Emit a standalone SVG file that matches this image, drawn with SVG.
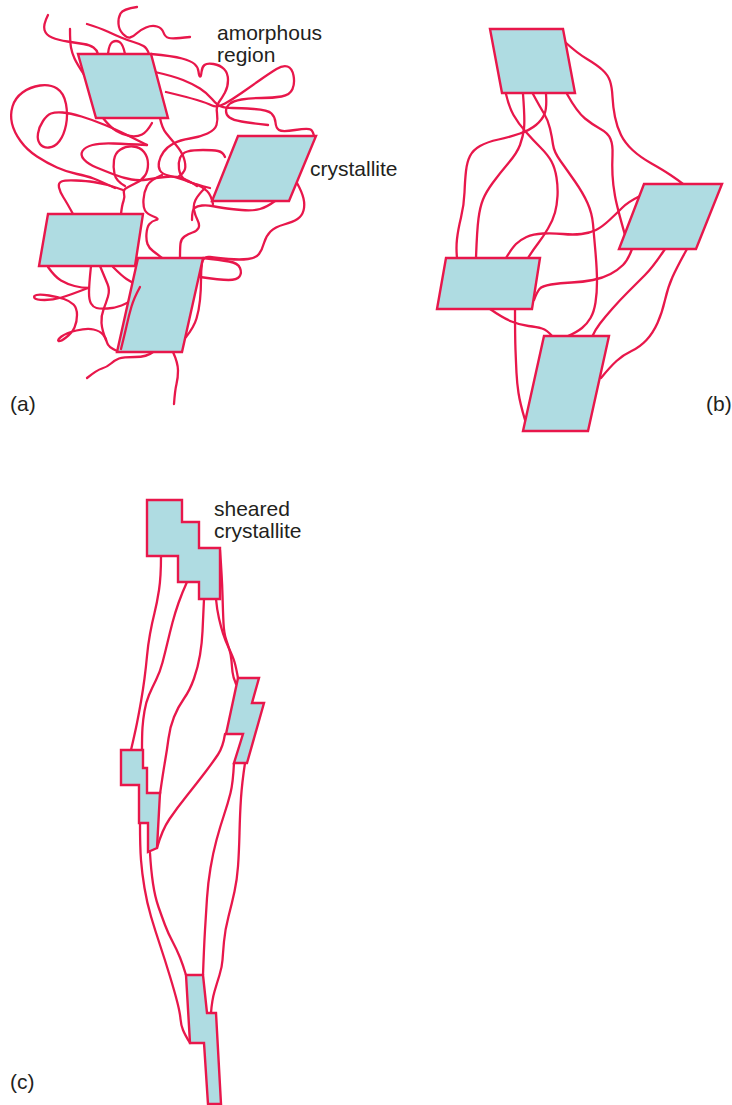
<svg xmlns="http://www.w3.org/2000/svg" width="732" height="1105" viewBox="0 0 732 1105">
  <style>
    .chain { fill: none; stroke: #e8174b; stroke-width: 2.3; stroke-linecap: round; stroke-linejoin: round; }
    .xtal { fill: #afdce2; stroke: #e8174b; stroke-width: 2.4; stroke-linejoin: miter; }
    .label { font-family: "Liberation Sans", Arial, sans-serif; font-size: 21px; fill: #231f20; }
  </style>
  <rect width="732" height="1105" fill="#ffffff"/>

  <!-- (a) amorphous tangle: chain segments -->
  <g id="chains-a" class="chain">
    <path d="M48 15 Q43 25 44.5 30 Q46 35 52 37.5 Q58 40 67.5 41.5 Q77 43 83.5 44 Q90 45 93.5 47.5 Q97 50 98 54"/>
    <path d="M70 29 Q70 42 71 47.5 Q72 53 74.5 58.5 Q77 64 85 76"/>
    <path d="M87 24 Q100 28 107.5 31.5 Q115 35 121 37.5 Q127 40 133.5 42 Q140 44 143.5 46 Q147 48 149 54"/>
    <path d="M108 54 Q109 44 112.5 42 Q116 40 119.5 42 Q123 44 125 54"/>
    <path d="M137 7 Q123 9 120.5 13.5 Q118 18 118.5 24 Q119 30 123 34 Q127 38 130 37.5 Q133 37 136.5 33.5 Q140 30 146 27.5 Q152 25 157 26.5 Q162 28 163.5 32.5 Q165 37 169 38 Q173 39 190 37"/>
    <path d="M151 54 Q173 56 182 58.5 Q191 61 194.5 64 Q198 67 198.5 71.5 Q199 76 200 76.5 Q201 77 201.5 72 Q202 67 204.5 65 Q207 63 213.5 64 Q220 65 224 69 Q228 73 228 80 Q228 87 225 92.5 Q222 98 219 102 Q216 106 217 113 Q218 120 216.5 125 Q215 130 207.5 133.5 Q200 137 190 138.5 Q180 140 173.5 143.5 Q167 147 163.5 152 Q160 157 159 162 Q158 167 160 170.5 Q162 174 168.5 175.5 Q175 177 182.5 179.5 Q190 182 196.5 184.5 Q203 187 207 191 Q211 195 213 204"/>
    <path d="M155 72 Q173 76 183 80 Q193 84 200 88.5 Q207 93 212 99 Q217 105 221 106.5 Q225 108 232.5 108 Q240 108 254 109 Q268 110 271.5 113.5 Q275 117 275.5 122.5 Q276 128 279 130 Q282 132 295 130 Q308 128 310.5 129.5 Q313 131 314 136"/>
    <path d="M166 92 Q187 97 197 100 Q207 103 212 105.5 Q217 108 225 103.5 Q233 99 241.5 93 Q250 87 260 80 Q270 73 276.5 69 Q283 65 287.5 66.5 Q292 68 293.5 75.5 Q295 83 292.5 89 Q290 95 281.5 96.5 Q273 98 261.5 98 Q250 98 241.5 99.5 Q233 101 229.5 104 Q226 107 226 111 Q226 115 229.5 117.5 Q233 120 241.5 121.5 Q250 123 268 125"/>
    <path d="M147 145 Q133 138 125 134 Q117 130 105 125 Q93 120 81.5 116.5 Q70 113 62.5 112.5 Q55 112 51 113.5 Q47 115 43 121 Q39 127 38 133.5 Q37 140 40 144 Q43 148 49 147.5 Q55 147 59.5 141 Q64 135 66 125 Q68 115 66 104 Q64 93 57 88.5 Q50 84 40 85.5 Q30 87 22.5 92.5 Q15 98 12.5 106.5 Q10 115 12 123.5 Q14 132 20.5 141 Q27 150 37 156.5 Q47 163 57 167.5 Q67 172 77 174 Q87 176 93.5 178.5 Q100 181 115 188"/>
    <path d="M147 145 Q127 144 113.5 143.5 Q100 143 92.5 145 Q85 147 82.5 151 Q80 155 84 159.5 Q88 164 96.5 167.5 Q105 171 114 174.5 Q123 178 131.5 179.5 Q140 181 147.5 179.5 Q155 178 165 177 Q175 176 181.5 178 Q188 180 197 186"/>
    <path d="M125 186 Q116 181 114.5 174 Q113 167 114 160 Q115 153 120.5 149.5 Q126 146 133 146.5 Q140 147 144 152 Q148 157 148 164 Q148 171 145 175.5 Q142 180 136 183 Q130 186 126.5 188 Q123 190 124 193.5 Q125 197 123.5 201 Q122 205 121 214"/>
    <path d="M73 214 Q67 203 63.5 197.5 Q60 192 59 187.5 Q58 183 61.5 181.5 Q65 180 76 180.5 Q87 181 93.5 182 Q100 183 107.5 185 Q115 187 123 190"/>
    <path d="M160 118 Q162 128 166 133 Q170 138 176 145 Q182 152 184 158.5 Q186 165 185 169 Q184 173 178 177"/>
    <path d="M225 157 Q223 152 218 151 Q213 150 203 150 Q193 150 187.5 151.5 Q182 153 180 158 Q178 163 179 169 Q180 175 183 178 Q186 181 190.5 182.5 Q195 184 210 188"/>
    <path d="M103 118 Q110 127 116.5 131 Q123 135 130 136 Q137 137 142 134.5 Q147 132 152 123"/>
    <path d="M192 220 Q192 210 194.5 208 Q197 206 202 205.5 Q207 205 212 206 Q217 207 223.5 208 Q230 209 241.5 210 Q253 211 260 209 Q267 207 275 201"/>
    <path d="M205 188 Q198 195 195.5 200 Q193 205 194 210 Q195 215 197.5 220 Q200 225 198.5 228 Q197 231 192.5 232.5 Q188 234 184.5 236.5 Q181 239 180.5 243.5 Q180 248 180 258"/>
    <path d="M297 183 Q302 192 303.5 198.5 Q305 205 303.5 210.5 Q302 216 297.5 219 Q293 222 284 224.5 Q275 227 270.5 231.5 Q266 236 264 243 Q262 250 259 254 Q256 258 248 259 Q240 260 228.5 259 Q217 258 210 257 Q203 256 202 263 Q201 270 201 280 Q201 290 200 300 Q199 310 196.5 318.5 Q194 327 186 337"/>
    <path d="M203 258 Q220 260 229 261.5 Q238 263 240 268 Q242 273 239.5 276.5 Q237 280 228.5 280 Q220 280 200 277"/>
    <path d="M162 175 Q150 180 147 186 Q144 192 143.5 199.5 Q143 207 145 210.5 Q147 214 153.5 216.5 Q160 219 156 220 Q152 221 149.5 224 Q147 227 146.5 233.5 Q146 240 147.5 244 Q149 248 153 251 Q157 254 162 258"/>
    <path d="M48 267 Q55 277 61 280.5 Q67 284 74.5 286 Q82 288 89 288"/>
    <path d="M91 266 Q89 285 89 292.5 Q89 300 91 303.5 Q93 307 96.5 308 Q100 309 107.5 308.5 Q115 308 121.5 305.5 Q128 303 132 299 Q136 295 140 287"/>
    <path d="M88 288 Q70 295 61.5 297.5 Q53 300 44.5 300 Q36 300 34.5 298 Q33 296 36.5 295 Q40 294 49 295.5 Q58 297 64 299 Q70 301 73.5 304.5 Q77 308 77 315 Q77 322 74.5 327.5 Q72 333 66 337.5 Q60 342 58.5 341 Q57 340 61.5 336.5 Q66 333 76.5 330.5 Q87 328 93.5 329.5 Q100 331 103 334.5 Q106 338 107 342.5 Q108 347 117 351"/>
    <path d="M100 266 Q105 278 107.5 284 Q110 290 108 296.5 Q106 303 103.5 309.5 Q101 316 101.5 323 Q102 330 106 340"/>
    <path d="M113 267 Q122 276 126.5 279 Q131 282 139 286"/>
    <path d="M153 352 Q147 357 135 357 Q123 357 119 358.5 Q115 360 111 363.5 Q107 367 102 368.5 Q97 370 87 378"/>
    <path d="M173 352 Q178 363 178 370.5 Q178 378 176.5 384 Q175 390 174 404"/>
  </g>

  <!-- (a) crystallites -->
  <g id="xtal-a1"><polygon class="xtal" points="78,54 151,54 168,118 96,118"/></g>
  <g id="xtal-a2"><polygon class="xtal" points="238,136 316,136 289,201 212,201"/></g>
  <g id="xtal-a3"><polygon class="xtal" points="48,214 143,214 135,266 39,266"/></g>
  <g id="xtal-a4"><polygon class="xtal" points="138,258 203,258 182,352 117,352"/></g>

  <!-- (a) chain passing over the lower crystallite -->
  <g id="chains-a-over" class="chain">
    <path d="M140 287 Q134 298 131.5 306.5 Q129 315 127 324 Q125 333 121 349"/>
  </g>

  <!-- (b) tie molecules between crystallites -->
  <g id="chains-b" class="chain">
    <path d="M565 42 Q577 53 587 59 Q597 65 602.5 70 Q608 75 610 81 Q612 87 612.5 97 Q613 107 615 117 Q617 127 621 135 Q625 143 632.5 150 Q640 157 651.5 163.5 Q663 170 670.5 175 Q678 180 683 184"/>
    <path d="M567 94 Q577 112 585 118.5 Q593 125 600.5 129 Q608 133 610.5 139 Q613 145 612.5 155 Q612 165 612.5 175 Q613 185 615 196 Q617 207 625 235"/>
    <path d="M546 94 Q547 108 544.5 114 Q542 120 536 125 Q530 130 520 133.5 Q510 137 498.5 139.5 Q487 142 480 146 Q473 150 470 156 Q467 162 466 171 Q465 180 464.5 192.5 Q464 205 461 217.5 Q458 230 457 239 Q456 248 457 258"/>
    <path d="M523 94 Q525 120 524 128.5 Q523 137 520 145 Q517 153 508.5 163 Q500 173 493 182.5 Q486 192 483 199.5 Q480 207 478.5 218.5 Q477 230 476 258"/>
    <path d="M506 94 Q509 107 513.5 115 Q518 123 525.5 131.5 Q533 140 540.5 147.5 Q548 155 551.5 161.5 Q555 168 556.5 177.5 Q558 187 557.5 196 Q557 205 555 212.5 Q553 220 548 228.5 Q543 237 538 243.5 Q533 250 528 258"/>
    <path d="M533 94 Q540 107 544 113.5 Q548 120 550 128.5 Q552 137 553 144.5 Q554 152 560.5 161 Q567 170 575 181.5 Q583 193 587.5 203 Q592 213 593 224 Q594 235 595.5 252.5 Q597 270 597 281.5 Q597 293 595.5 302.5 Q594 312 590.5 318 Q587 324 582 328 Q577 332 568 336"/>
    <path d="M506 258 Q512 248 516 244 Q520 240 526.5 237 Q533 234 543 233.5 Q553 233 563 234 Q573 235 581.5 234 Q590 233 596 230 Q602 227 609.5 220 Q617 213 622.5 207.5 Q628 202 640 196"/>
    <path d="M534 300 Q537 292 539.5 289 Q542 286 551 284.5 Q560 283 571.5 282.5 Q583 282 593 280 Q603 278 610.5 274 Q618 270 623 265 Q628 260 632 249"/>
    <path d="M665 249 Q653 267 645 275 Q637 283 628.5 291.5 Q620 300 612.5 308.5 Q605 317 600 323.5 Q595 330 592 337"/>
    <path d="M687 249 Q677 267 672.5 277 Q668 287 665 300 Q662 313 657.5 323 Q653 333 646.5 340 Q640 347 631.5 351 Q623 355 616.5 361 Q610 367 601 378"/>
    <path d="M490 309 Q503 318 511.5 321.5 Q520 325 528.5 326 Q537 327 542 328.5 Q547 330 552 336"/>
    <path d="M515 309 Q515 337 515.5 350 Q516 363 516.5 373 Q517 383 518.5 393 Q520 403 525 420"/>
  </g>

  <!-- (b) crystallites -->
  <g id="xtal-b1"><polygon class="xtal" points="490,29 563,29 575,93 502,93"/></g>
  <g id="xtal-b2"><polygon class="xtal" points="644,184 722,184 696,249 619,249"/></g>
  <g id="xtal-b3"><polygon class="xtal" points="446,258 540,258 532,309 437,309"/></g>
  <g id="xtal-b4"><polygon class="xtal" points="544,336 609,336 588,431 523,431"/></g>

  <!-- (c) stretched tie molecules -->
  <g id="chains-c" class="chain">
    <path d="M161 556 Q161 577 159 590 Q157 603 154.5 613 Q152 623 150 634 Q148 645 147 656 Q146 667 144.5 678.5 Q143 690 141 701.5 Q139 713 137 723 Q135 733 131 750"/>
    <path d="M187 582 Q182 593 178.5 603 Q175 613 172.5 622.5 Q170 632 167.5 642.5 Q165 653 162.5 662.5 Q160 672 156 680 Q152 688 149 695 Q146 702 144.5 711 Q143 720 142.5 727.5 Q142 735 142 750"/>
    <path d="M204 599 Q203 620 202.5 631.5 Q202 643 200 655 Q198 667 194 678.5 Q190 690 184 698.5 Q178 707 174 717 Q170 727 168.5 738.5 Q167 750 165 761.5 Q163 773 160 794"/>
    <path d="M216 599 Q217 610 219 618.5 Q221 627 223 633.5 Q225 640 229 648.5 Q233 657 234.5 662 Q236 667 238 678"/>
    <path d="M220 550 Q222 577 222.5 595 Q223 613 223.5 623 Q224 633 226 639 Q228 645 229.5 650 Q231 655 231.5 661 Q232 667 232.5 672 Q233 677 236 684"/>
    <path d="M225 734 Q223 747 218 754.5 Q213 762 205 772.5 Q197 783 187 795.5 Q177 808 169.5 819 Q162 830 157 848"/>
    <path d="M140 823 Q140 847 141 860 Q142 873 144.5 888 Q147 903 151 916.5 Q155 930 160 945 Q165 960 170 976.5 Q175 993 177.5 1003 Q180 1013 180.5 1019 Q181 1025 183 1030 Q185 1035 190 1043"/>
    <path d="M150 853 Q151 870 153 883.5 Q155 897 158.5 907 Q162 917 165 925 Q168 933 172.5 941.5 Q177 950 180 957.5 Q183 965 186 975"/>
    <path d="M234 763 Q233 783 230.5 793 Q228 803 224 815 Q220 827 216.5 840 Q213 853 210.5 868 Q208 883 207 898 Q206 913 205 930 Q204 947 203 975"/>
    <path d="M245 763 Q242 783 241 798 Q240 813 239.5 833 Q239 853 238 866.5 Q237 880 234.5 891.5 Q232 903 228.5 916.5 Q225 930 224 941.5 Q223 953 222.5 960 Q222 967 219.5 975 Q217 983 214.5 991.5 Q212 1000 211 1013"/>
  </g>

  <!-- (c) sheared crystallites -->
  <g id="xtal-c1"><polygon class="xtal" points="147,500 182,500 182,522 199,522 199,548 220,548 220,599 199,599 199,582 178,582 178,556 147,556"/></g>
  <g id="xtal-c2"><polygon class="xtal" points="238,678 259,678 252,703 264,703 247,763 234,763 243,734 226,734"/></g>
  <g id="xtal-c3"><polygon class="xtal" points="121,750 143,750 143,768 147,768 147,793 160,793 157,848 148,852 148,823 139,823 139,785 121,785"/></g>
  <g id="xtal-c4"><polygon class="xtal" points="186,975 203,975 207,1013 216,1013 221,1104 208,1104 204,1043 190,1043"/></g>

  <!-- labels -->
  <g id="labels" class="label">
    <text x="217" y="40">amorphous</text>
    <text x="217" y="62">region</text>
    <text x="310" y="176">crystallite</text>
    <text x="10" y="411">(a)</text>
    <text x="706" y="411">(b)</text>
    <text x="214" y="516">sheared</text>
    <text x="214" y="538">crystallite</text>
    <text x="10" y="1089">(c)</text>
  </g>
</svg>
